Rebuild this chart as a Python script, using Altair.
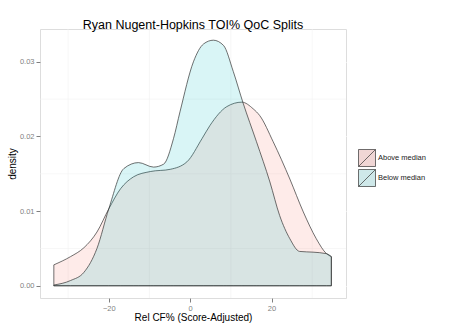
import altair as alt
import pandas as pd

below_x = [-33.5, -29.4, -26.1, -22.9, -20.0, -16.3, -12.7, -9.0, -6.5, -4.1, -2.5, 0.8, 3.3, 5.7, 8.2, 10.6, 13.0, 16.3, 19.6, 22.0, 24.5, 26.9, 30.2, 33.5, 34.7]
below_y = [0.0001, 0.0007, 0.0018, 0.0050, 0.0103, 0.0157, 0.0165, 0.0159, 0.0163, 0.0197, 0.0233, 0.0300, 0.0324, 0.0329, 0.0322, 0.0287, 0.0245, 0.0193, 0.0139, 0.0094, 0.0063, 0.0046, 0.0045, 0.0043, 0.0039]

above_x = [-33.5, -29.4, -26.1, -22.9, -20.0, -17.1, -13.9, -9.8, -4.9, -0.8, 2.9, 4.9, 9.0, 12.7, 15.5, 17.1, 20.4, 24.5, 27.8, 31.0, 33.5, 34.7]
above_y = [0.0028, 0.0039, 0.0051, 0.0072, 0.0103, 0.0130, 0.0146, 0.0153, 0.0156, 0.0166, 0.0197, 0.0215, 0.0240, 0.0246, 0.0237, 0.0228, 0.0193, 0.0143, 0.0099, 0.0063, 0.0043, 0.0039]

groups = ["Above median", "Below median"]
colors = ["#F8766D", "#00BFC4"]
legend_colors = ["#F0D6D5", "#CEE8E9"]

x_major = [-20, 0, 20]
x_minor = [-30, -10, 10, 30]
y_major = [0.0, 0.01, 0.02, 0.03]
y_minor = [0.005, 0.015, 0.025]

df = pd.concat([
    pd.DataFrame({"x": above_x, "y": above_y, "g": groups[0]}),
    pd.DataFrame({"x": below_x, "y": below_y, "g": groups[1]}),
])

FONT = "Liberation Sans"
xs = alt.Scale(domain=[-36.9, 38.3], nice=False, zero=False)
ys = alt.Scale(domain=[-0.00164, 0.0344], nice=False, zero=False)

minor_v = alt.Chart(pd.DataFrame({"v": x_minor})).mark_rule(color="#F2F2F2", strokeWidth=0.6).encode(
    x=alt.X("v:Q", scale=xs)
)
minor_h = alt.Chart(pd.DataFrame({"v": y_minor})).mark_rule(color="#F2F2F2", strokeWidth=0.6).encode(
    y=alt.Y("v:Q", scale=ys)
)

areas = alt.Chart(df).mark_area(
    interpolate="monotone", fillOpacity=0.15, stroke="#333333", strokeWidth=0.7
).encode(
    x=alt.X("x:Q", scale=xs, title="Rel CF% (Score-Adjusted)",
            axis=alt.Axis(values=x_major, grid=True, gridColor="white", gridWidth=1.2,
                          domain=False, tickColor="#7f7f7f", tickSize=4, labelPadding=2,
                          labelFontSize=7.5, labelColor="#7f7f7f", labelFont=FONT,
                          titleFont=FONT, titleFontSize=10, titleFontWeight="normal",
                          titleColor="#000000", titlePadding=1)),
    y=alt.Y("y:Q", scale=ys, title="density",
            axis=alt.Axis(values=y_major, format=".2f", grid=True, gridColor="white", gridWidth=1.2,
                          domain=False, tickColor="#7f7f7f", tickSize=4, labelPadding=2,
                          labelFontSize=7.5, labelColor="#7f7f7f", labelFont=FONT,
                          titleFont=FONT, titleFontSize=10, titleFontWeight="normal",
                          titleColor="#000000", titlePadding=2)),
    y2=alt.datum(0),
    fill=alt.Fill("g:N", scale=alt.Scale(range=colors), legend=None),
)

legend_layer = alt.Chart(df).mark_square(opacity=1, clip=True).encode(
    x=alt.X("x:Q", scale=xs),
    y=alt.Y("y:Q", scale=ys),
    size=alt.value(0),
    color=alt.Color("g:N", scale=alt.Scale(domain=groups, range=legend_colors),
                    legend=alt.Legend(title=None, orient="none", legendX=318, legendY=120,
                                      symbolType="M-1,-1L1,-1L1,1L-1,1Z M-1,1L1,-1",
                                      symbolSize=289, symbolStrokeColor="#333333",
                                      symbolStrokeWidth=0.7, symbolOpacity=1,
                                      labelFont=FONT, labelFontSize=7.5, labelColor="#222222",
                                      labelOffset=2, rowPadding=0, padding=0)),
)

chart = alt.layer(minor_v, minor_h, areas, legend_layer).properties(
    width=306, height=269,
    title=alt.Title("Ryan Nugent-Hopkins TOI% QoC Splits", font=FONT, fontSize=12.5,
                    fontWeight="normal", color="#000000", anchor="middle", offset=0, dy=2.5),
    autosize=alt.AutoSizeParams(type="none"),
    padding={"left": 40, "top": 29, "right": 104, "bottom": 34},
).configure_view(fill="#E5E5E5", stroke=None).configure(background="white")

chart.save("out.html", embed_options={"renderer": "svg", "actions": False})
